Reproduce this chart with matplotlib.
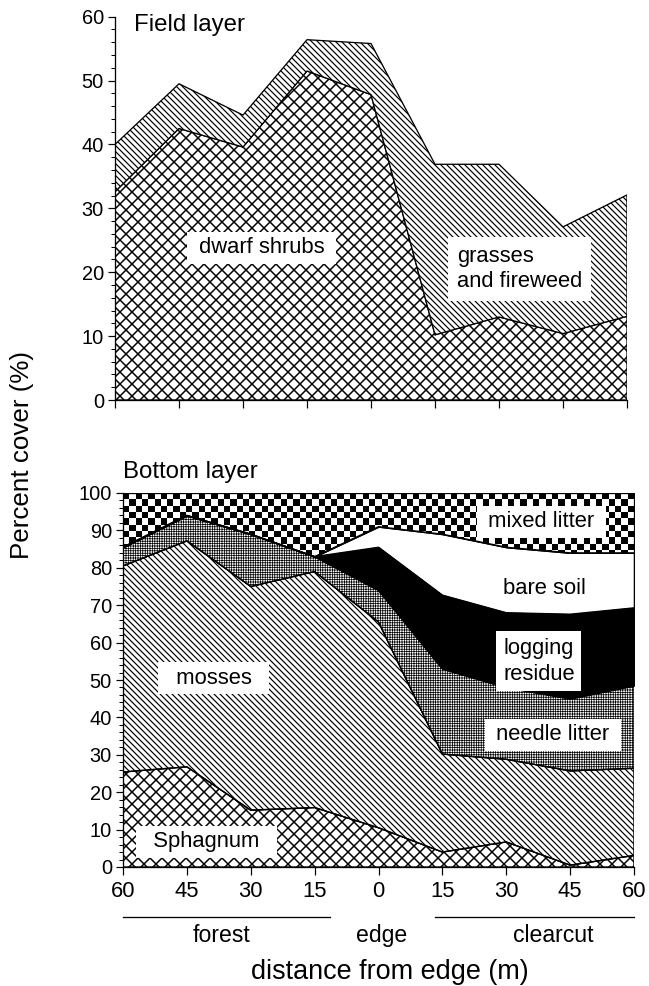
import numpy as np
import matplotlib
matplotlib.use('Agg')
import matplotlib.pyplot as plt
from matplotlib.ticker import MultipleLocator
from matplotlib.transforms import blended_transform_factory

plt.rcParams['font.family'] = ['Liberation Sans', 'DejaVu Sans']

# ---------------- data ----------------
positions = np.arange(9)
tick_labels = ['60', '45', '30', '15', '0', '15', '30', '45', '60']

# Field layer (% cover)
dwarf_shrubs = [32.6, 42.5, 39.6, 51.5, 47.8, 10.2, 13.0, 10.4, 13.1]
grasses_fireweed = [7.4, 7.0, 5.0, 4.9, 8.0, 26.7, 23.9, 16.7, 19.0]

# Bottom layer (% cover)
sphagnum = [25.4, 26.8, 15.2, 15.9, 10.5, 4.0, 6.7, 0.5, 3.1]
mosses = [55.1, 60.4, 59.8, 63.1, 55.0, 26.2, 22.1, 25.2, 23.3]
needle_litter = [5.0, 6.8, 14.0, 4.0, 8.5, 22.8, 19.2, 19.3, 22.1]
logging_residue = [0, 0, 0, 0, 11.5, 19.7, 20.0, 22.6, 20.8]
bare_soil = [0, 0, 0, 0, 5.5, 16.3, 17.5, 16.4, 14.7]
mixed_litter = [14.5, 6.0, 11.0, 17.0, 9.0, 11.0, 14.5, 16.0, 16.0]

DPI = 72
fig = plt.figure(figsize=(649 / DPI, 986 / DPI), dpi=DPI)
ax1 = fig.add_axes([115 / 649, 1 - 400 / 986, 512 / 649, 383.3 / 986])
ax2 = fig.add_axes([123 / 649, 1 - 867 / 986, 511 / 649, 374 / 986])

CROSS = 'xx'
DIAG = '\\' * 4
STIPPLE = '+++++'


def layer(ax, base, vals, hatch=None, hlw=1.0, face='white'):
    top = base + np.asarray(vals, float)
    with plt.rc_context({'hatch.linewidth': hlw}):
        coll = ax.fill_between(positions, base, top, facecolor=face,
                               edgecolor='black', hatch=hatch, linewidth=1.3,
                               zorder=2)
    if hasattr(coll, 'set_hatch_linewidth'):
        coll.set_hatch_linewidth(hlw)
    return top, coll


def style_axes(ax, ymax, labels):
    for s in ['top', 'right']:
        ax.spines[s].set_visible(False)
    for s in ['left', 'bottom']:
        ax.spines[s].set_linewidth(1.3)
        ax.spines[s].set_zorder(6)
    ax.set_xlim(0, 8)
    ax.set_ylim(0, ymax)
    ax.set_xticks(positions)
    ax.set_yticks(np.arange(0, ymax + 1, 10))
    ax.yaxis.set_minor_locator(MultipleLocator(2))
    ax.tick_params(axis='y', which='major', length=7, width=1.2,
                   labelsize=20, pad=4)
    ax.tick_params(axis='y', which='minor', length=4, width=1.0)
    ax.tick_params(axis='x', which='major', length=8, width=1.2,
                   labelsize=22, pad=6)
    if labels:
        ax.set_xticklabels(tick_labels)
    else:
        ax.set_xticklabels([])
    ax.patch.set_alpha(0)


box = dict(boxstyle='square,pad=0.25', facecolor='white', edgecolor='none')

# ---------------- field layer ----------------
b = np.zeros(9)
b, _ = layer(ax1, b, dwarf_shrubs, hatch=CROSS, hlw=1.5)
b, _ = layer(ax1, b, grasses_fireweed, hatch=DIAG, hlw=1.2)
style_axes(ax1, 60, False)

ax1.text(0.29, 58.7, 'Field layer', fontsize=24, ha='left', va='center')
ax1.text(2.29, 23.8, ' dwarf shrubs ', fontsize=22, ha='center',
         va='center', bbox=box, zorder=7)
ax1.text(5.34, 20.5, 'grasses\nand fireweed', fontsize=22, ha='left',
         va='center', linespacing=1.3, bbox=dict(box, boxstyle='square,pad=0.4'),
         zorder=7)

# ---------------- bottom layer ----------------
b = np.zeros(9)
tops = []
b, _ = layer(ax2, b, sphagnum, hatch=CROSS, hlw=1.5)
tops.append(b)
b, _ = layer(ax2, b, mosses, hatch=DIAG, hlw=1.2)
tops.append(b)
b, _ = layer(ax2, b, needle_litter, hatch=STIPPLE, hlw=0.7)
tops.append(b)
b, _ = layer(ax2, b, logging_residue, face='black')
tops.append(b)
b, _ = layer(ax2, b, bare_soil)
tops.append(b)
b, mixed_coll = layer(ax2, b, mixed_litter)
tops.append(b)

# checkerboard texture for mixed litter
ny, nx = 59, 81
checker = np.add.outer(np.arange(ny), np.arange(nx)) % 2
im = ax2.imshow(checker, cmap='gray', extent=[0, 8, 0, 100], origin='lower',
                interpolation='nearest', aspect='auto', zorder=3)
im.set_clip_path(mixed_coll.get_paths()[0], ax2.transData)

for t in tops[:-1]:
    ax2.plot(positions, t, color='black', lw=1.3, zorder=4)
ax2.plot([0, 8], [100, 100], color='black', lw=1.3, zorder=4)
ax2.plot([8, 8], [0, 100], color='black', lw=1.3, zorder=4)

style_axes(ax2, 100, True)

ax2.text(0.0, 105.7, 'Bottom layer', fontsize=24, ha='left', va='center',
         clip_on=False)
ax2.text(1.31, 6.8, '  Sphagnum  ', fontsize=22, ha='center', va='center',
         bbox=box, zorder=7)
ax2.text(1.42, 50.5, '  mosses  ', fontsize=22, ha='center', va='center',
         bbox=box, zorder=7)
ax2.text(6.73, 35.3, ' needle litter ', fontsize=22, ha='center',
         va='center', bbox=box, zorder=7)
ax2.text(5.95, 55.0, 'logging\nresidue', fontsize=22, ha='left',
         va='center', linespacing=1.3,
         bbox=dict(box, boxstyle='square,pad=0.3'), zorder=7)
ax2.text(6.6, 74.5, 'bare soil', fontsize=22, ha='center', va='center',
         zorder=7)
ax2.text(6.55, 92.3, ' mixed litter ', fontsize=22, ha='center',
         va='center', bbox=box, zorder=7)

# group annotations under x axis
tr = blended_transform_factory(ax2.transData, ax2.transAxes)
ax2.plot([0, 3.24], [-0.134, -0.134], color='black', lw=1.3,
         transform=tr, clip_on=False)
ax2.plot([4.88, 8.0], [-0.134, -0.134], color='black', lw=1.3,
         transform=tr, clip_on=False)
ax2.text(1.545, -0.184, 'forest', fontsize=23, ha='center', va='center',
         transform=tr)
ax2.text(4.05, -0.184, 'edge', fontsize=23, ha='center', va='center',
         transform=tr)
ax2.text(6.73, -0.184, 'clearcut', fontsize=23, ha='center', va='center',
         transform=tr)
ax2.text(4.17, -0.281, 'distance from edge (m)', fontsize=27, ha='center',
         va='center', transform=tr)

fig.text(22 / 649, 1 - 455 / 986, 'Percent cover (%)', fontsize=26,
         rotation=90, ha='center', va='center')

fig.savefig('out.png', dpi=DPI)
